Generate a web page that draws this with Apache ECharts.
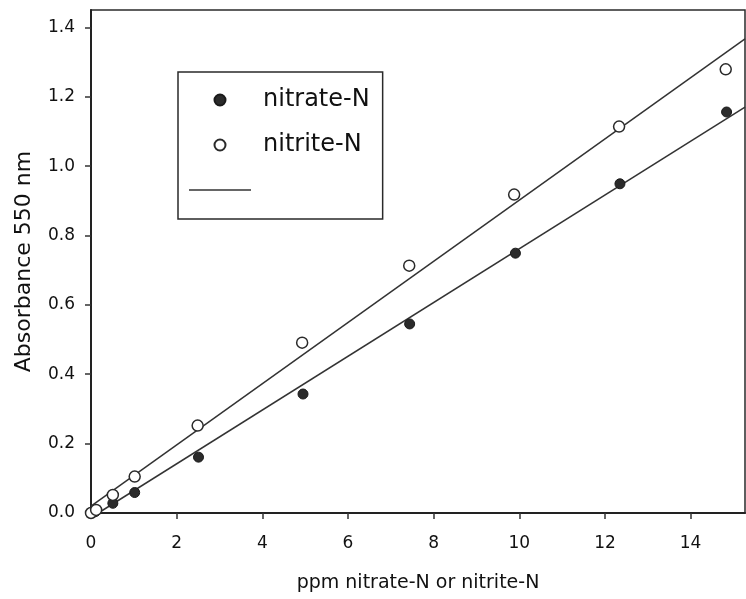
<!DOCTYPE html>
<html>
<head>
<meta charset="utf-8">
<script src="https://cdn.jsdelivr.net/npm/echarts@6/dist/echarts.min.js"></script>
<style>html,body{margin:0;padding:0;background:#fff}#c{width:746px;height:599px}</style>
</head>
<body>
<div id="c"></div>
<script>
// Data
var nitrateX = [0, 0.1, 0.51, 1.02, 2.51, 4.95, 7.44, 9.91, 12.35, 14.84];
var nitrateY = [0, 0.004, 0.028, 0.059, 0.161, 0.343, 0.545, 0.749, 0.949, 1.156];
var nitriteX = [0, 0.12, 0.51, 1.02, 2.49, 4.93, 7.43, 9.88, 12.33, 14.82];
var nitriteY = [0, 0.009, 0.052, 0.105, 0.252, 0.491, 0.713, 0.918, 1.114, 1.279];
// regression lines (end points)
var nitrateFitX = [0.17, 15.27];
var nitrateFitY = [0, 1.170];
var nitriteFitX = [0, 15.27];
var nitriteFitY = [0.02, 1.367];
var xTicks = [0, 2, 4, 6, 8, 10, 12, 14];
var yTicks = [0, 0.2, 0.4, 0.6, 0.8, 1.0, 1.2, 1.4];
var xMax = 15.27, yMax = 1.45;

function pairs(xs, ys){ return xs.map(function(x,i){ return [x, ys[i]]; }); }

var FONT = 'DejaVu Sans';
var ink = '#111';
var chart = echarts.init(document.getElementById('c'), null, {renderer:'canvas'});
chart.setOption({
  animation: false,
  backgroundColor: '#fff',
  textStyle: {fontFamily: FONT, color: ink},
  grid: {left: 91, right: 1, top: 10, bottom: 86, show: true, borderColor: '#2a2a2a', borderWidth: 1.5, containLabel: false, outerBoundsMode: 'none'},
  legend: {
    orient: 'vertical', left: 178, top: 72,
    padding: [15, 13, 16, 11],
    borderColor: '#2a2a2a', borderWidth: 1.5, borderRadius: 0,
    itemWidth: 62, itemHeight: 11, itemGap: 19,
    textStyle: {fontFamily: FONT, fontSize: 24, color: ink, lineHeight: 26, padding: [0,0,0,7]},
    data: [
      {name: 'nitrate-N'},
      {name: 'nitrite-N'},
      {name: ' ', icon: 'path://M0,0H62V1.5H0Z'}
    ]
  },
  xAxis: {
    type: 'value', min: 0, max: xMax, interval: 2,
    name: 'ppm nitrate-N or nitrite-N', nameLocation: 'middle', nameGap: 61,
    nameTextStyle: {fontFamily: FONT, fontSize: 19, color: ink},
    axisLine: {show: true, lineStyle: {color: '#222', width: 2}},
    axisTick: {show: true, length: 6, lineStyle: {color: '#333', width: 1.5}, customValues: xTicks},
    axisLabel: {fontFamily: FONT, fontSize: 17, color: ink, margin: 22, customValues: xTicks,
      formatter: function(v){ return String(Math.round(v)); }},
    splitLine: {show: false}
  },
  yAxis: {
    type: 'value', min: 0, max: yMax, interval: 0.2,
    name: 'Absorbance 550 nm', nameLocation: 'middle', nameGap: 56,
    nameTextStyle: {fontFamily: FONT, fontSize: 22, color: ink},
    axisLine: {show: true, lineStyle: {color: '#222', width: 2}},
    axisTick: {show: true, length: 6, lineStyle: {color: '#333', width: 1.5}, customValues: yTicks},
    axisLabel: {fontFamily: FONT, fontSize: 17, color: ink, margin: 16, customValues: yTicks,
      formatter: function(v){ return v.toFixed(1); }},
    splitLine: {show: false}
  },
  series: [
    {name: ' ', type: 'line', data: pairs(nitrateFitX, nitrateFitY), symbol: 'none', clip: true,
      lineStyle: {color: '#333', width: 1.5}, itemStyle: {color: '#333'}, z: 1},
    {name: ' ', type: 'line', data: pairs(nitriteFitX, nitriteFitY), symbol: 'none', clip: true,
      lineStyle: {color: '#333', width: 1.5}, itemStyle: {color: '#333'}, z: 1},
    {name: 'nitrate-N', type: 'scatter', data: pairs(nitrateX, nitrateY), symbol: 'circle', symbolSize: 10, clip: false,
      itemStyle: {color: '#2b2b2b', borderColor: '#1a1a1a', borderWidth: 1, opacity: 1}, z: 3},
    {name: 'nitrite-N', type: 'scatter', data: pairs(nitriteX, nitriteY), symbol: 'circle', symbolSize: 11, clip: false,
      itemStyle: {color: '#ffffff', borderColor: '#2a2a2a', borderWidth: 1.5, opacity: 1}, z: 4}
  ]
});
</script>
</body>
</html>
